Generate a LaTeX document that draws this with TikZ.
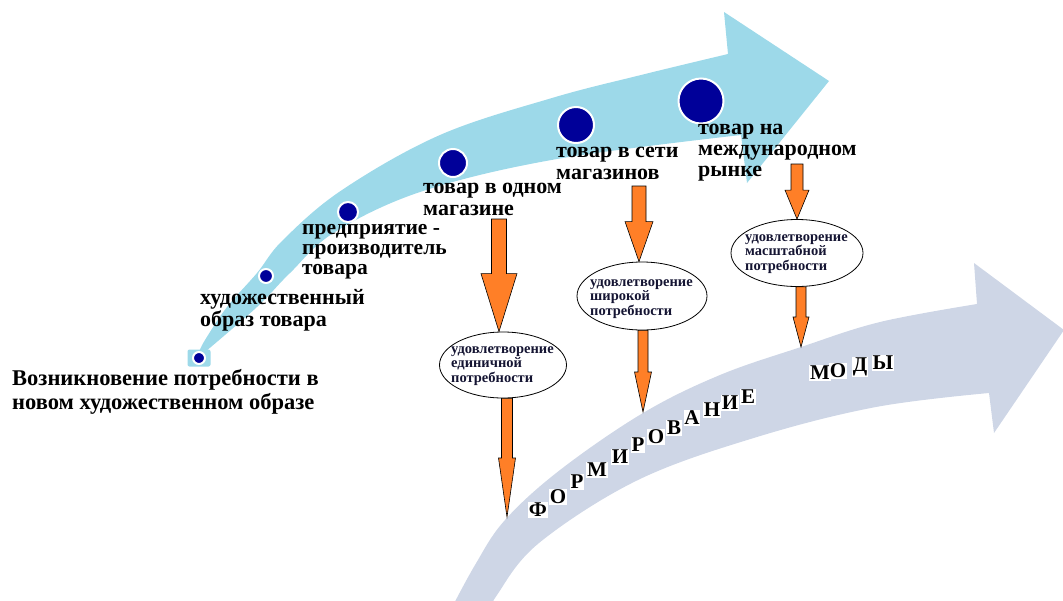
\documentclass[tikz,border=0pt]{standalone}
\usepackage{fontspec}
\setmainfont{Liberation Serif}
\usetikzlibrary{shapes.geometric,calc}
\definecolor{skyarrow}{RGB}{157,217,233}
\definecolor{grayarrow}{RGB}{206,214,230}
\definecolor{navydot}{RGB}{0,0,153}
\definecolor{orangefill}{RGB}{255,127,39}
\definecolor{elltext}{RGB}{20,20,50}
\tikzset{
 dot/.style={circle,fill=navydot,draw=white,line width=2pt,inner sep=0pt},
 lbl/.style={font=\bfseries\fontsize{22}{22}\selectfont,align=left,inner sep=0pt,anchor=west},
 ellbox/.style={ellipse,draw=black,fill=white,line width=0.8pt,inner sep=0pt},
 elltxt/.style={font=\bfseries\fontsize{14.5}{14.8}\selectfont,text=elltext,align=left,inner sep=0pt,anchor=west},
 orarr/.style={fill=orangefill,draw=black,line width=0.6pt,line join=miter},
 letter/.style={font=\bfseries\fontsize{21}{21}\selectfont,fill=white,inner sep=0.8pt},
}
\newcommand{\orangearrow}[5]{%
 \path[orarr] let \p1=(#1),\p2=(#2) in
 (\x1-#3pt,\y1) -- (\x1+#3pt,\y1) -- (\x1+#3pt,\y2+#5pt) -- (\x1+#4pt,\y2+#5pt)
 -- (\x1,\y2) -- (\x1-#4pt,\y2+#5pt) -- (\x1-#3pt,\y2+#5pt) -- cycle;}
\begin{document}
\begin{tikzpicture}[x=1pt,y=-1pt]
\useasboundingbox (0,0) rectangle (1063,600);
\clip (0,0) rectangle (1063,600);
% top sky-blue arrow
\fill[skyarrow] plot[smooth,tension=0.6] coordinates {(199,352) (205,340) (227,307) (257,273) (283,240) (342,190) (440,135) (552,98) (641,75) (728,54)}
 -- (724,12) -- (829,81) -- (747,183) -- (741,135)
 -- plot[smooth,tension=0.6] coordinates {(741,135) (557,159) (423,191) (335,232) (290,273) (257,307) (205,352)} -- cycle;
% lower gray arrow
\fill[grayarrow] plot[smooth,tension=0.6] coordinates {(448,615) (475,565) (505,520) (560,470) (643,413) (720,375) (801,347) (880,322) (977,304)}
 -- (974,263) -- (1064,330) -- (994,433) -- (989,393)
 -- plot[smooth,tension=0.6] coordinates {(989,393) (876,407) (757,437) (638,480) (539,543) (497,595) (488,615)} -- cycle;
% tail square and dots
\node[fill=skyarrow,rounded corners=2pt,minimum width=23pt,minimum height=17pt,inner sep=0pt] (sq) at (199,358) {};
\node[dot,minimum size=12pt] (d1) at (199,358) {};
\node[dot,minimum size=14pt] (d2) at (266,276) {};
\node[dot,minimum size=20pt] (d3) at (348,212) {};
\node[dot,minimum size=28pt] (d4) at (453,163) {};
\node[dot,minimum size=36pt] (d5) at (576,125) {};
\node[dot,minimum size=45pt] (d6) at (701,101) {};
% labels
\node[lbl,font=\bfseries\fontsize{22.5}{24}\selectfont] (t1) at (12,392) {Возникновение потребности в\\новом художественном образе};
\node[lbl] (t2) at (200,310.5) {художественный\\образ товара};
\node[lbl,font=\bfseries\fontsize{21.5}{20}\selectfont] (t3) at (302,252) {предприятие -\\производитель\\товара};
\node[lbl] (t4) at (423,199.5) {товар в одном\\магазине};
\node[lbl] (t5) at (556,163) {товар в сети\\магазинов};
\node[lbl,font=\bfseries\fontsize{22}{21}\selectfont] (t6) at (698,153) {товар на\\международном\\рынке};
% ellipses
\node[ellbox,minimum width=127pt,minimum height=66pt] (e1) at (503,365) {};
\node[elltxt] (e1t) at (451,366) {удовлетворение\\единичной\\потребности};
\node[ellbox,minimum width=130pt,minimum height=68pt] (e2) at (642,296) {};
\node[elltxt] (e2t) at (590,299) {удовлетворение\\широкой\\потребности};
\node[ellbox,minimum width=132pt,minimum height=67pt] (e3) at (797,253) {};
\node[elltxt] (e3t) at (745,254) {удовлетворение\\масштабной\\потребности};
% arrow end points
\coordinate (s1) at (499,219);
\coordinate (s2) at (639,186);
\coordinate (s3) at (797,164);
\coordinate (s1b) at ($(e1.south)+(4,0)$);
\coordinate (s2b) at ($(e2.south)+(1,0)$);
\coordinate (s3b) at ($(e3.south)+(4,0)$);
\coordinate (f1) at (507,517);
\coordinate (f2) at (643,412);
\coordinate (f3) at (801,347);
\orangearrow{s1}{e1.north}{7.5}{18}{58}
\orangearrow{s2}{e2.north}{7}{14}{40}
\orangearrow{s3}{e3.north}{6}{12}{29}
\orangearrow{s1b}{f1}{5.5}{8.5}{59}
\orangearrow{s2b}{f2}{5}{8.5}{40}
\orangearrow{s3b}{f3}{5}{8}{30}
% letters
\node[letter] (l1) at (538,510) {Ф};
\node[letter] (l2) at (558,497) {О};
\node[letter] (l3) at (577,482) {Р};
\node[letter] (l4) at (597,470) {М};
\node[letter] (l5) at (620,457) {И};
\node[letter] (l6) at (638,445) {Р};
\node[letter] (l7) at (656,437) {О};
\node[letter] (l8) at (674,428) {В};
\node[letter] (l9) at (692,418) {А};
\node[letter] (l10) at (712,410) {Н};
\node[letter] (l11) at (730,403) {И};
\node[letter] (l12) at (748,397) {Е};
\node[letter] (l13) at (820,373) {М};
\node[letter] (l14) at (838,371) {О};
\node[letter] (l15) at (860,367) {Д};
\node[letter] (l16) at (883,363) {Ы};
\end{tikzpicture}
\end{document}
